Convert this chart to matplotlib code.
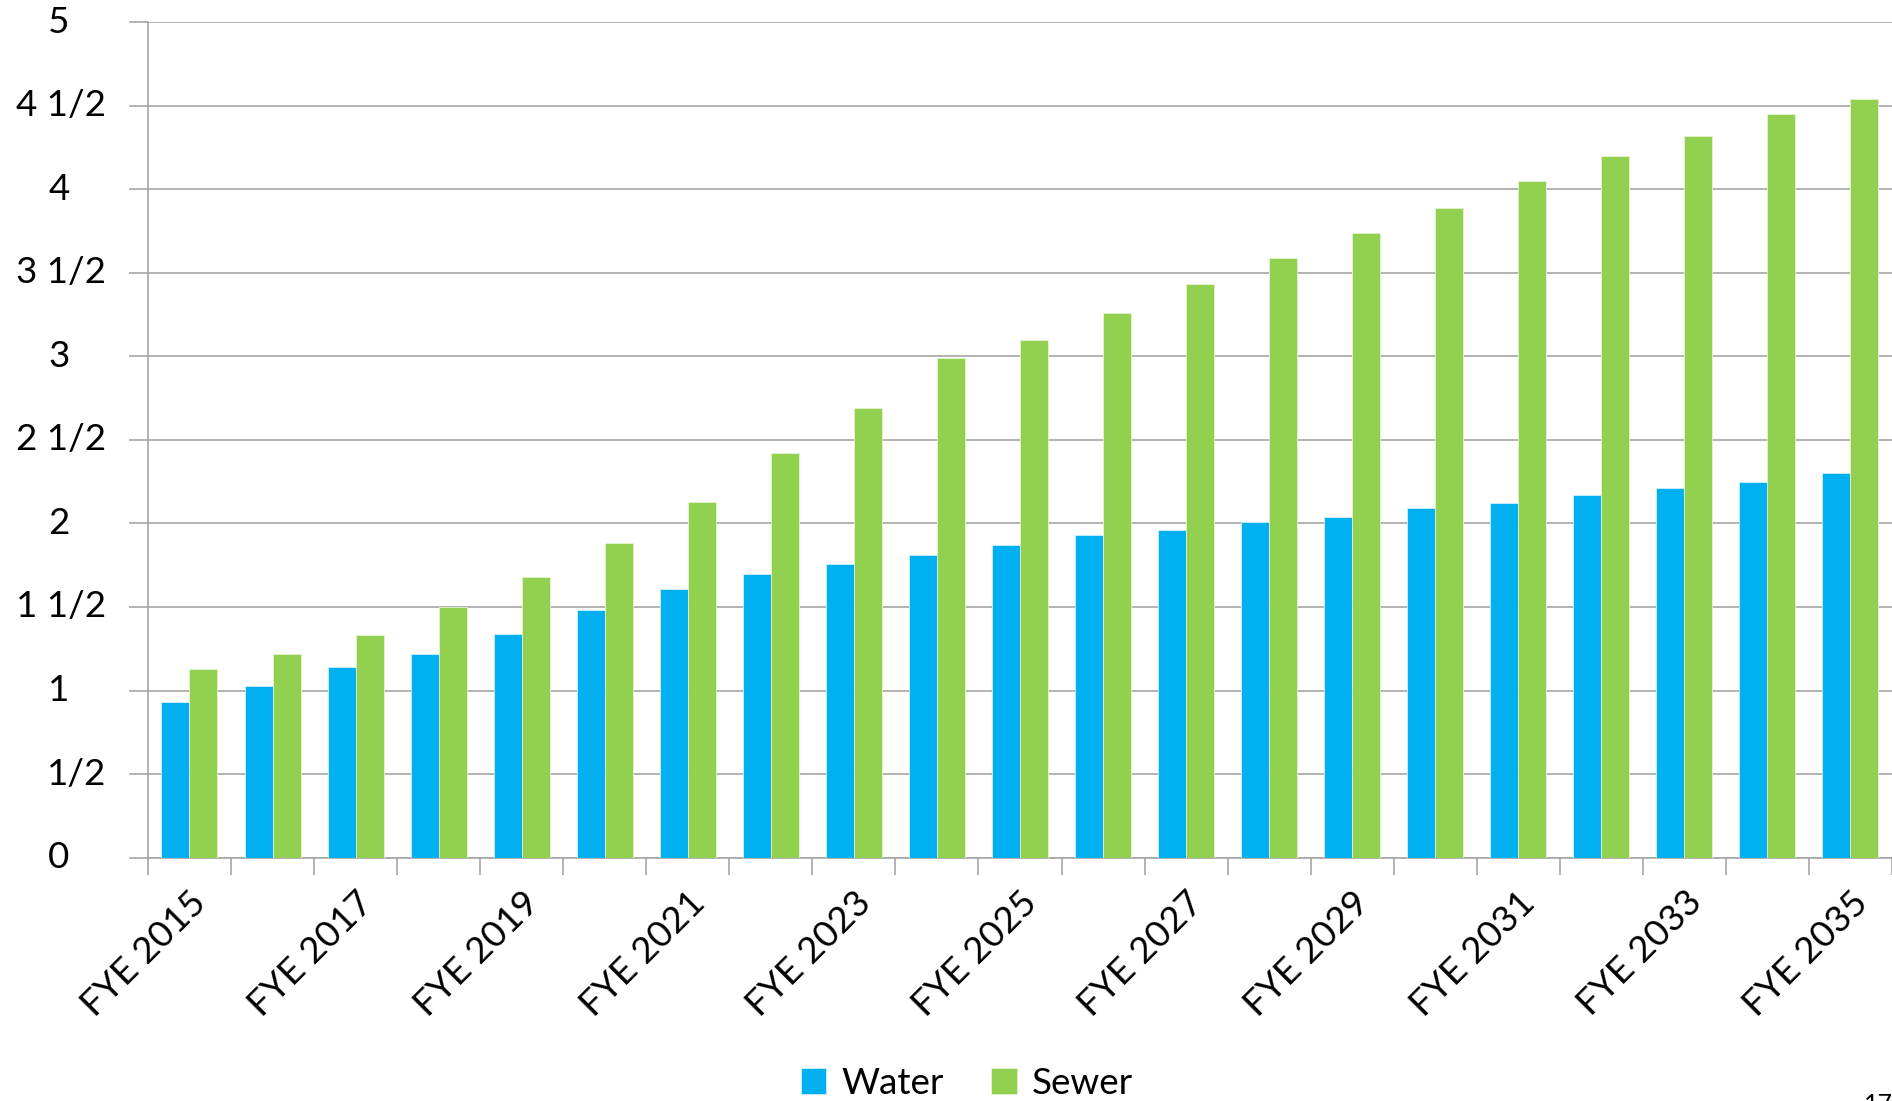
import numpy as np
import matplotlib
matplotlib.use('Agg')
import matplotlib.pyplot as plt

# Data
years = list(range(2015, 2036))
categories = ['FYE %d' % y for y in years]
water = [0.93, 1.03, 1.14, 1.22, 1.34, 1.48, 1.61, 1.70, 1.76, 1.81, 1.87,
         1.93, 1.96, 2.01, 2.04, 2.09, 2.12, 2.17, 2.21, 2.25, 2.30]
sewer = [1.13, 1.22, 1.33, 1.50, 1.68, 1.88, 2.13, 2.42, 2.69, 2.99, 3.10,
         3.26, 3.43, 3.59, 3.74, 3.89, 4.05, 4.20, 4.32, 4.45, 4.54]
ytick_vals = [0, 0.5, 1, 1.5, 2, 2.5, 3, 3.5, 4, 4.5, 5]
ytick_labels = ['0', '1/2', '1', '1 1/2', '2', '2 1/2', '3', '3 1/2', '4', '4 1/2', '5']

plt.rcParams['font.family'] = ['Lato', 'DejaVu Sans']
grid_c = '#A6A6A6'
fs = 26.5

fig = plt.figure(figsize=(18.92, 11.01), dpi=100)
ax = fig.add_axes([0.0782, 0.221, 0.9218, 0.759])

x = np.arange(len(categories))
bw = 0.337
ax.bar(x - bw/2, water, bw, color='#00B0F0', edgecolor='#CFEFFB', linewidth=0.6, label='Water', zorder=3)
ax.bar(x + bw/2, sewer, bw, color='#92D050', edgecolor='#E2F3D2', linewidth=0.6, label='Sewer', zorder=3)

ax.set_xlim(-0.5, len(categories) - 0.5)
ax.set_ylim(0, 5)

# horizontal grid
ax.set_yticks(ytick_vals)
ax.yaxis.grid(True, color=grid_c, linewidth=1.2, zorder=0)
ax.tick_params(axis='y', length=14, width=1.2, color=grid_c, labelleft=False)
tr = ax.get_yaxis_transform()
for v, s in zip(ytick_vals, ytick_labels):
    if '/' in s:
        ax.text(-0.0241, v, s, transform=tr, ha='right', va='center', fontsize=fs, color='black')
    else:
        ax.text(-0.0510, v, s, transform=tr, ha='center', va='center', fontsize=fs, color='black')

# x ticks between categories, labels on every other category
ax.set_xticks(np.arange(-0.5, len(categories), 1.0))
ax.set_xticklabels([])
ax.tick_params(axis='x', length=12, width=1.2, color=grid_c)
ax.set_xticks(x[::2], minor=True)
ax.set_xticklabels(categories[::2], minor=True, rotation=45, ha='right',
                   rotation_mode='anchor', fontsize=fs)
ax.tick_params(axis='x', which='minor', length=0, pad=20)

for side in ['top', 'right']:
    ax.spines[side].set_visible(False)
ax.spines['left'].set_color(grid_c)
ax.spines['left'].set_linewidth(1.2)
ax.spines['bottom'].set_color(grid_c)
ax.spines['bottom'].set_linewidth(1.2)

fig.legend(loc='center', bbox_to_anchor=(0.511, 0.016), ncol=2, frameon=False,
           fontsize=fs, handlelength=0.7, handleheight=0.7, handletextpad=0.4,
           columnspacing=1.3, borderpad=0.1)

fig.text(0.985, -0.014, '17', fontsize=18, ha='left', va='bottom')

fig.savefig('out.png', dpi=100)
